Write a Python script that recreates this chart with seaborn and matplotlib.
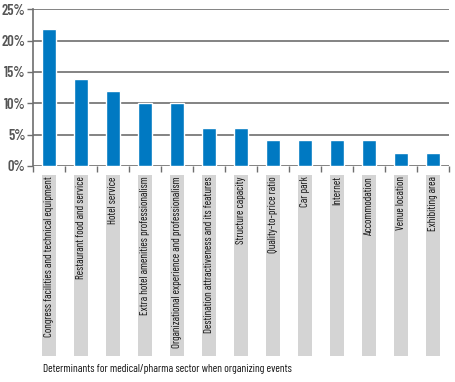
import numpy as np
import pandas as pd
import seaborn as sns
import matplotlib.pyplot as plt
import matplotlib.transforms as mtransforms
from matplotlib.ticker import FixedLocator, FuncFormatter

# data
categories = [
    'Congress facilities and technical equipment',
    'Restaurant food and service',
    'Hotel service',
    'Extra hotel amenities professionalism',
    'Organizational experience and professionalism',
    'Destination attractiveness and its features',
    'Structure capacity',
    'Quality-to-price ratio',
    'Car park',
    'Internet',
    'Accommodation',
    'Venue location',
    'Exhibiting area',
]
shares = [21.9, 13.9, 12.0, 10.0, 10.0, 6.1, 6.1, 4.1, 4.1, 4.1, 4.1, 2.0, 2.0]
yticks = [0, 5, 10, 15, 20, 25]
xlabel = 'Determinants for medical/pharma sector when organizing events'

df = pd.DataFrame({'cat': categories, 'share': shares})

sns.set_style('white')
plt.rcParams['font.family'] = ['Barlow Condensed', 'DejaVu Sans']

W, H = 455, 382
fig = plt.figure(figsize=(W / 100, H / 100), dpi=100)
ax = fig.add_axes([33 / W, (H - 166) / H, 416 / W, (166 - 9.3) / H])

bar_col = '#0079c2'
band_col = '#d4d4d4'
grid_col = '#6e6e6e'

sns.barplot(data=df, x='cat', y='share', order=categories, color=bar_col,
            width=0.44, saturation=1, ax=ax, zorder=3)

ax.set_xlim(-0.5, len(categories) - 0.5)
ax.set_ylim(0, 25)

# grid lines
for v in yticks:
    ax.axhline(v, color=grid_col, lw=1.2, zorder=1)

ax.set_yticks(yticks)
ax.yaxis.set_major_formatter(FuncFormatter(lambda v, p: f'{v:.0f}%'))
ax.tick_params(axis='y', length=4, width=1, color=grid_col, labelsize=10.5,
               labelcolor='#555555', pad=1.5, left=True)
for t in ax.get_yticklabels():
    t.set_fontweight('semibold')

# category labels sit in grey bands under the bars
trans = mtransforms.blended_transform_factory(ax.transData, ax.transAxes)
band_top = -9 / 156.7
band_bot = -189.7 / 156.7
for i, c in enumerate(categories):
    ax.add_patch(plt.Rectangle((i - 0.22, band_bot), 0.44, band_top - band_bot,
                               transform=trans, color=band_col, clip_on=False, lw=0))
    ax.text(i, band_top - 0.008, c, transform=trans, rotation=90, ha='center', va='top',
            fontsize=7.8, color='#111111')

ax.set_xticks(range(len(categories)))
ax.set_xticklabels([])
ax.tick_params(axis='x', which='major', length=0)
ax.xaxis.set_minor_locator(FixedLocator(np.arange(-0.5, len(categories), 1)))
ax.tick_params(axis='x', which='minor', length=4, width=1, color=grid_col, bottom=True, direction='out')

ax.set_xlabel('')
ax.set_ylabel('')
for s in ['top', 'right', 'bottom']:
    ax.spines[s].set_visible(False)
ax.spines['left'].set_color(grid_col)
ax.spines['left'].set_linewidth(1.2)

fig.text(43 / W, 1 - 369 / H, xlabel, ha='left', va='center', fontsize=8.1, color='#111111')

fig.savefig('out.png', dpi=100)
